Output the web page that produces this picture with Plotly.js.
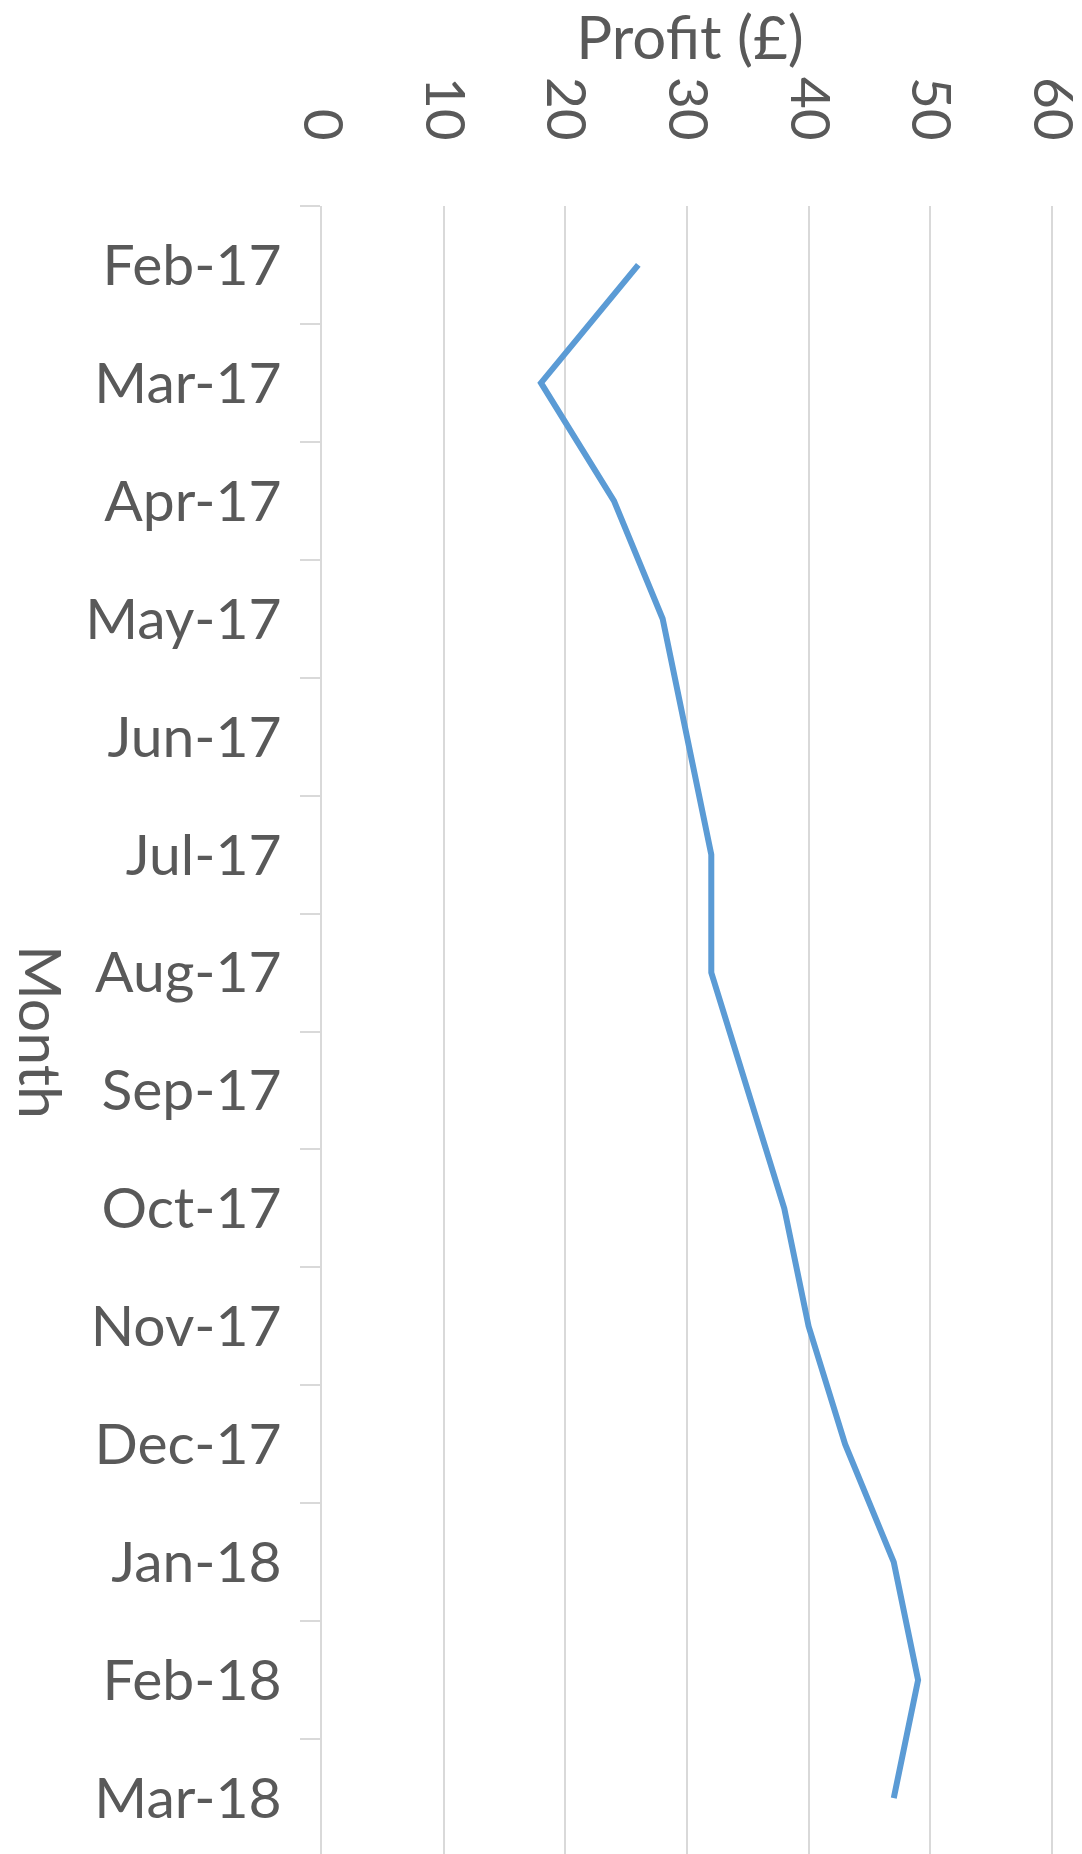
<!DOCTYPE html>
<html>
<head>
<meta charset="utf-8">
<script src="https://cdn.plot.ly/plotly-3.0.1.min.js"></script>
<style>
html, body { margin: 0; padding: 0; overflow: hidden; background: #fff; }
#chart { width: 1082px; height: 1858px; }
</style>
</head>
<body>
<div id="chart"></div>
<script>
const months = ["Feb-17","Mar-17","Apr-17","May-17","Jun-17","Jul-17","Aug-17","Sep-17","Oct-17","Nov-17","Dec-17","Jan-18","Feb-18","Mar-18"];
const profit = [26, 18, 24, 28, 30, 32, 32, 35, 38, 40, 43, 47, 49, 47];
const xTickVals = [0, 10, 20, 30, 40, 50, 60];
const xTitle = "Profit (£)";
const yTitle = "Month";

const textColor = "#595959";
const gridColor = "#d9d9d9";
const fontFamily = "Lato, 'Open Sans', sans-serif";

const trace = {
  type: "scatter",
  mode: "lines",
  x: profit,
  y: months,
  line: { color: "#5b9bd5", width: 6 },
  hoverinfo: "x+y"
};

const layout = {
  width: 1082,
  height: 1858,
  margin: { l: 322, r: 24, t: 206, b: 1 },
  paper_bgcolor: "#ffffff",
  plot_bgcolor: "#ffffff",
  showlegend: false,
  font: { family: fontFamily, color: textColor, size: 56 },
  xaxis: {
    side: "top",
    range: [0, 60.5],
    tickvals: xTickVals,
    ticktext: xTickVals.map(String),
    tickangle: 90,
    ticks: "",
    ticklabelstandoff: 56,
    ticklabeloverflow: "allow",
    showgrid: true,
    gridcolor: gridColor,
    gridwidth: 2,
    zeroline: false,
    showline: false,
    tickfont: { family: fontFamily, size: 55, color: textColor },
    title: { text: xTitle, font: { family: fontFamily, size: 60, color: textColor }, standoff: 6 },
    automargin: false,
    fixedrange: true
  },
  yaxis: {
    type: "category",
    categoryorder: "array",
    categoryarray: months,
    autorange: false,
    range: [months.length - 0.5, -0.5],
    tickson: "boundaries",
    ticks: "outside",
    ticklen: 20,
    tickwidth: 2,
    tickcolor: gridColor,
    ticklabelstandoff: 27,
    showgrid: false,
    showline: true,
    linecolor: gridColor,
    linewidth: 2,
    zeroline: false,
    tickfont: { family: fontFamily, size: 57, color: textColor },
    automargin: false,
    fixedrange: true
  },
  annotations: [{
    text: yTitle,
    xref: "paper", yref: "paper",
    x: -0.381, y: 0.5,
    xanchor: "center", yanchor: "middle",
    textangle: 90,
    showarrow: false,
    font: { family: fontFamily, size: 59, color: textColor }
  }]
};

Plotly.newPlot("chart", [trace], layout, { displayModeBar: false, staticPlot: true });
</script>
</body>
</html>
